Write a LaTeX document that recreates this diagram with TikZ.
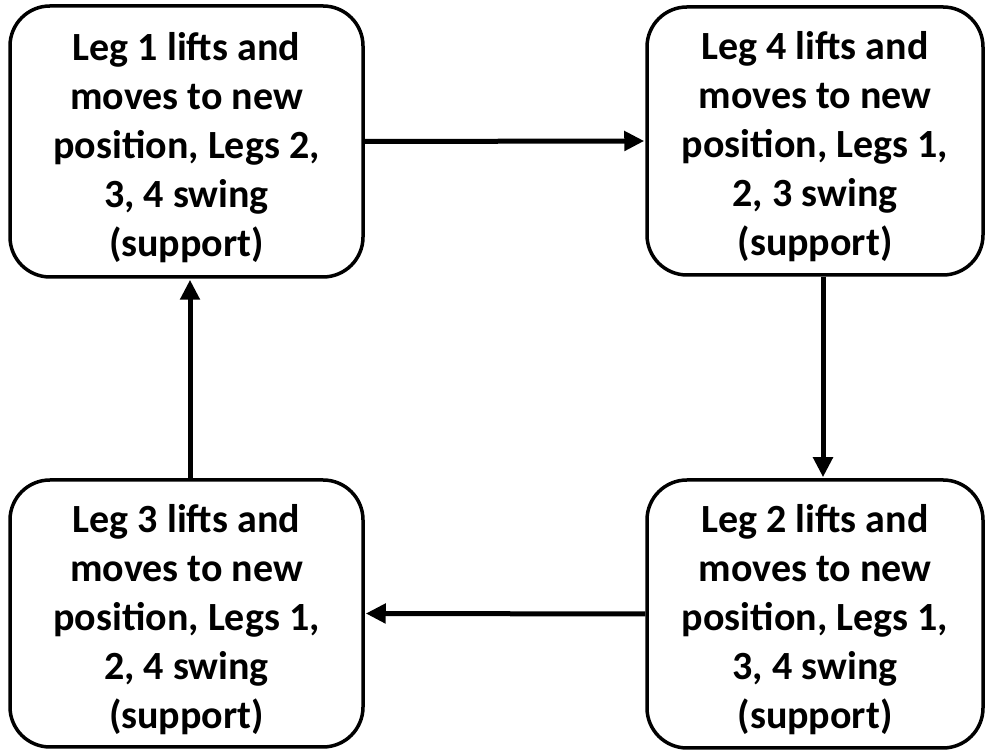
\documentclass[tikz,border=0pt]{standalone}
\usepackage{fontspec}
\setmainfont{Carlito}
\usetikzlibrary{arrows.meta}
\newcommand{\topgap}{\rule{0pt}{40pt}}
\begin{document}
\begin{tikzpicture}[x=1pt,y=1pt,
  stepbox/.style={draw=black, line width=3.5pt, rounded corners=40pt, fill=white,
    align=center, inner sep=0pt, font=\fontsize{40}{49}\selectfont\bfseries},
  conn/.style={line width=5pt, -{Triangle[length=20pt,width=19pt]}, shorten >=1pt}
]
\useasboundingbox (0,0) rectangle (989,751);
\node[stepbox, minimum width=353pt, minimum height=271pt] (tl) at (186.5,609.5)
  {\topgap Leg 1 lifts and\\moves to new\\position, Legs 2,\\3, 4 swing\\(support)};
\node[stepbox, minimum width=336pt, minimum height=268pt] (tr) at (815,610)
  {\topgap Leg 4 lifts and\\moves to new\\position, Legs 1,\\2, 3 swing\\(support)};
\node[stepbox, minimum width=353pt, minimum height=267pt] (bl) at (186.5,137.5)
  {\topgap Leg 3 lifts and\\moves to new\\position, Legs 1,\\2, 4 swing\\(support)};
\node[stepbox, minimum width=336pt, minimum height=268pt] (br) at (815,137)
  {\topgap Leg 2 lifts and\\moves to new\\position, Legs 1,\\3, 4 swing\\(support)};
\draw[conn] (tl.east) -- (tr.west);
\draw[conn] ([xshift=8pt]tr.south) -- ([xshift=8pt]br.north);
\draw[conn] (br.west) -- (bl.east);
\draw[conn] ([xshift=3.5pt]bl.north) -- ([xshift=3.5pt]tl.south);
\end{tikzpicture}
\end{document}
